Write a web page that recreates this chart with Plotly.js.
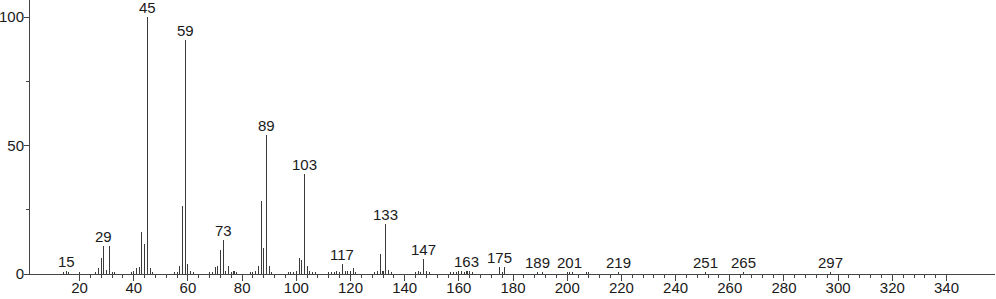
<!DOCTYPE html>
<html>
<head>
<meta charset="utf-8">
<script src="https://cdn.plot.ly/plotly-3.0.1.min.js"></script>
<style>html,body{margin:0;padding:0;background:#fff;}#chart{width:996px;height:299px;}</style>
</head>
<body>
<div id="chart"></div>
<script>
// m/z values and relative intensities (%)
var mz = [14,15,16,20,26,27,28,29,30,31,32,33,39,40,41,42,43,44,45,46,47,
  55,56,57,58,59,60,61,62,68,69,70,71,72,73,74,75,76,77,78,
  83,84,85,86,87,88,89,90,91,97,98,99,100,101,102,103,104,105,106,107,
  112,113,114,115,116,117,118,119,120,121,122,129,130,131,132,133,134,135,
  144,145,146,147,148,149,157,158,159,160,161,162,163,164,165,175,176,177,
  189,191,200,201,202,207,208,219,251,265,297];
var intensity = [0.8,1.3,0.9,0.8,0.8,2.3,6.4,11.0,1.4,10.8,0.8,0.8,0.8,1.2,2.5,2.9,16.5,11.8,100,2.5,0.8,
  0.9,0.9,3.2,26.6,91.0,4.0,1.2,0.8,0.8,0.9,2.9,3.2,9.5,13.2,1.2,3.2,0.8,1.2,0.8,
  0.8,0.8,1.2,3.0,28.3,10.2,54.2,3.0,0.9,0.8,0.8,0.8,1.2,6.4,5.3,39.0,3.0,1.3,0.9,0.9,
  0.8,0.9,0.9,1.3,0.9,3.9,1.0,1.0,1.0,2.3,0.9,0.8,1.2,7.8,1.2,19.3,1.4,0.9,
  0.9,1.2,0.9,5.8,1.0,0.8,0.8,0.8,0.9,1.0,1.0,0.8,1.2,1.0,0.8,2.6,0.9,2.6,
  0.6,0.6,0.7,0.8,0.7,0.8,0.8,0.8,0.6,0.6,0.6];
// labelled peaks
var labelMz = [15,29,45,59,73,89,103,117,133,147,163,175,189,201,219,251,265,297];
// axis ticks
var xTickVals = [20,40,60,80,100,120,140,160,180,200,220,240,260,280,300,320,340];
var yTickVals = [0,50,100];
var yMinorVals = [25,75];

var xMinorVals = [];
for (var v = 20; v <= 340; v += 4) { if (v % 20 !== 0) xMinorVals.push(v); }

var annotations = labelMz.map(function(m){
  var i = mz.indexOf(m);
  return {x: m, y: intensity[i], xref:'x', yref:'y', text: String(m), showarrow:false,
    yanchor:'bottom', xanchor:'center', yshift:-1,
    font:{family:'Liberation Sans, Arial, sans-serif', size:15, color:'#1a1a1a'}};
});

var trace = {type:'bar', x: mz, y: intensity, width: 0.38,
  marker:{color:'#3a3a3a', line:{width:0}}, hoverinfo:'x+y'};

var layout = {
  width:996, height:299,
  margin:{l:30, r:1, t:0, b:25, pad:0},
  paper_bgcolor:'#ffffff', plot_bgcolor:'#ffffff',
  showlegend:false,
  font:{family:'Liberation Sans, Arial, sans-serif', size:15, color:'#1a1a1a'},
  xaxis:{range:[1.7,357.9], tickmode:'array', tickvals:xTickVals, ticks:'outside', ticklen:6,
    ticklabelstandoff:-6,
    tickcolor:'#444', tickwidth:1, showline:true, linecolor:'#444', linewidth:1,
    showgrid:false, zeroline:false, tickfont:{size:15, color:'#1a1a1a'},
    minor:{tickmode:'array', tickvals:xMinorVals, ticks:'outside', ticklen:3, tickcolor:'#444', tickwidth:1, showgrid:false}},
  yaxis:{range:[0,106.7], tickmode:'array', tickvals:yTickVals, ticks:'outside', ticklen:5,
    ticklabelstandoff:-3,
    tickcolor:'#444', tickwidth:1, showline:true, linecolor:'#444', linewidth:1,
    showgrid:false, zeroline:false, tickfont:{size:15, color:'#1a1a1a'},
    minor:{tickmode:'array', tickvals:yMinorVals, ticks:'outside', ticklen:3, tickcolor:'#444', tickwidth:1, showgrid:false}},
  annotations: annotations,
  bargap:0
};

Plotly.newPlot('chart', [trace], layout, {displayModeBar:false, staticPlot:true});
</script>
</body>
</html>
